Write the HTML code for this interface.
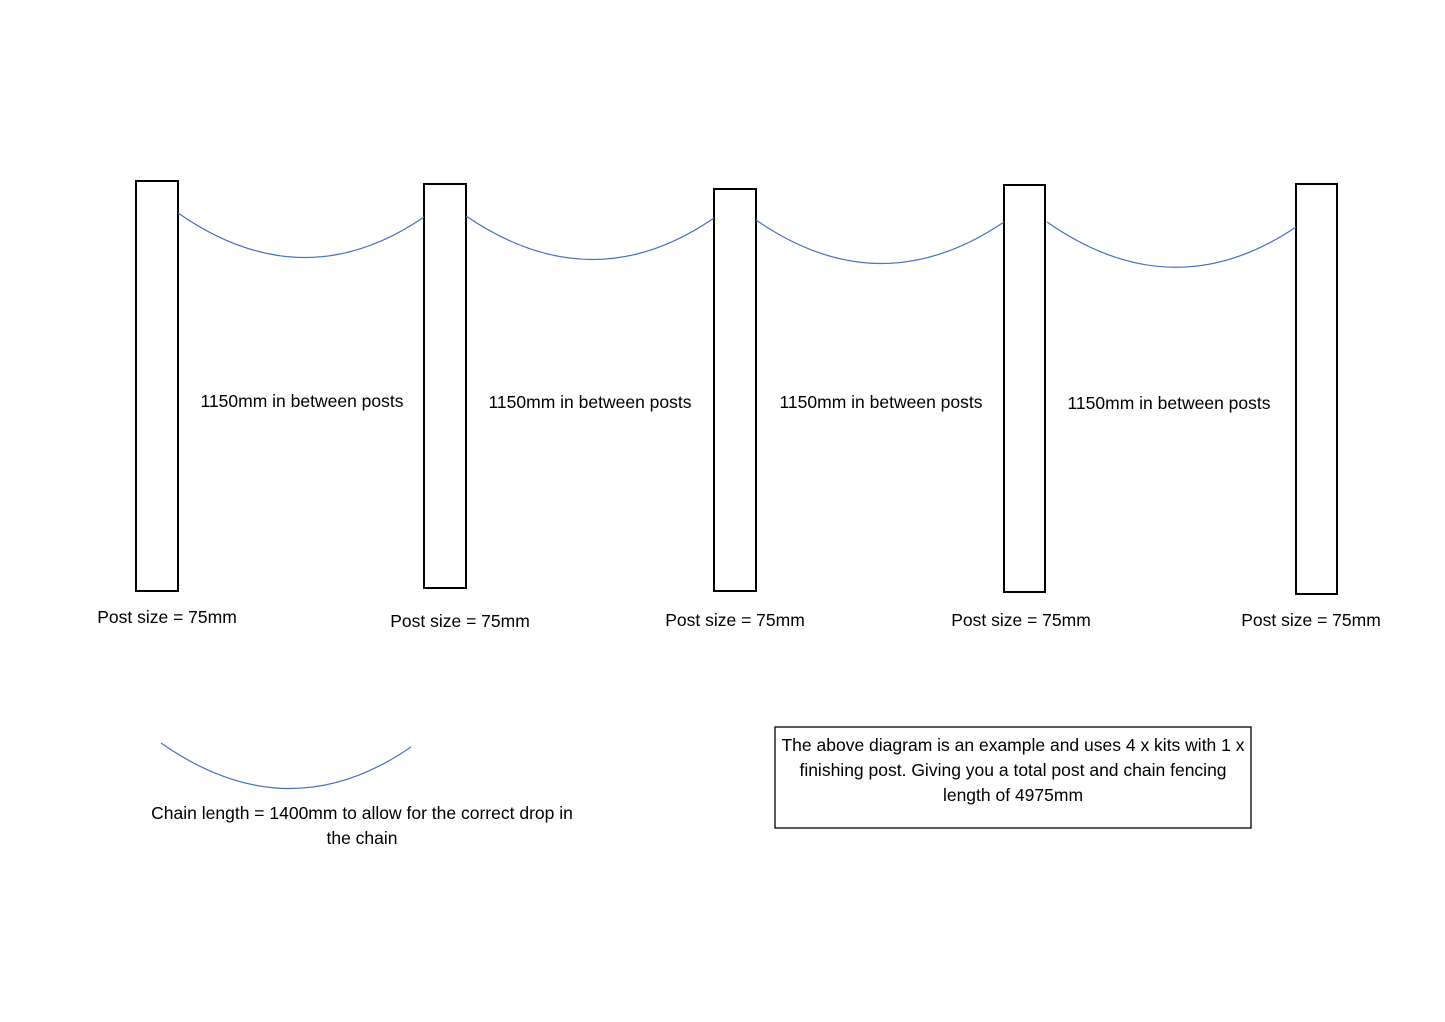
<!DOCTYPE html>
<html><head><meta charset="utf-8"><style>
body{margin:0;background:#fff;}
svg{display:block}
text{font-family:"Liberation Sans",sans-serif;font-size:17.5px;fill:#000}
</style></head><body>
<svg width="1445" height="1022" xmlns="http://www.w3.org/2000/svg">
<rect width="1445" height="1022" fill="#fff"/>
<g fill="none" stroke="#000" stroke-width="2">
<rect x="136" y="181" width="42" height="410"/>
<rect x="424" y="184" width="42" height="404"/>
<rect x="714" y="189" width="42" height="402"/>
<rect x="1004" y="185" width="41" height="407"/>
<rect x="1296" y="184" width="41" height="410"/>
</g>
<g fill="none" stroke="#4472c4" stroke-width="1.2">
<path d="M178 213 Q303 300 424 217"/>
<path d="M466 216 Q592 302 714 218"/>
<path d="M756 220 Q880 306 1004 222"/>
<path d="M1047 222 Q1173 310 1296 227"/>
<path d="M161 743 Q288 832 411 747"/>
</g>
<text x="302" y="407" text-anchor="middle">1150mm in between posts</text>
<text x="590" y="408" text-anchor="middle">1150mm in between posts</text>
<text x="881" y="408" text-anchor="middle">1150mm in between posts</text>
<text x="1169" y="409" text-anchor="middle">1150mm in between posts</text>
<text x="167" y="623" text-anchor="middle">Post size = 75mm</text>
<text x="460" y="627" text-anchor="middle">Post size = 75mm</text>
<text x="735" y="626" text-anchor="middle">Post size = 75mm</text>
<text x="1021" y="626" text-anchor="middle">Post size = 75mm</text>
<text x="1311" y="626" text-anchor="middle">Post size = 75mm</text>
<text x="362" y="819" text-anchor="middle">Chain length = 1400mm to allow for the correct drop in</text>
<text x="362" y="844" text-anchor="middle">the chain</text>
<rect x="775" y="727" width="476" height="101" fill="none" stroke="#000" stroke-width="1.3"/>
<text x="1013" y="751" text-anchor="middle">The above diagram is an example and uses 4 x kits with 1 x</text>
<text x="1013" y="776" text-anchor="middle">finishing post. Giving you a total post and chain fencing</text>
<text x="1013" y="801" text-anchor="middle">length of 4975mm</text>
</svg>
</body></html>
